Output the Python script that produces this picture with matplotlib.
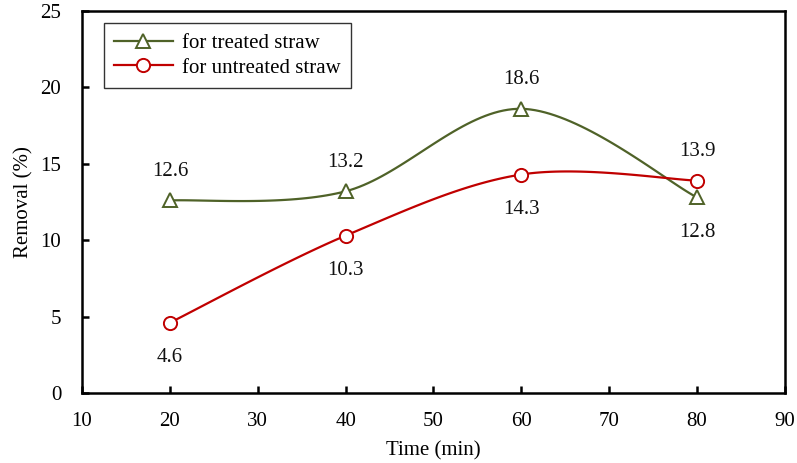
import numpy as np
import matplotlib
matplotlib.use("Agg")
import matplotlib.pyplot as plt

time_min = [20, 40, 60, 80]
treated = [12.6, 13.2, 18.6, 12.8]
untreated = [4.6, 10.3, 14.3, 13.9]
treated_label_pos = ["above", "above", "above", "below"]
untreated_label_pos = ["below", "below", "below", "above"]
xticks = [10, 20, 30, 40, 50, 60, 70, 80, 90]
yticks = [0, 5, 10, 15, 20, 25]

plt.rcParams['font.family'] = ['Liberation Serif', 'DejaVu Serif']


def smooth(x, y, n=40):
    x = np.asarray(x, float)
    y = np.asarray(y, float)
    P = np.column_stack([x, y])
    out = []
    for i in range(len(P) - 1):
        p0 = P[i - 1] if i > 0 else P[i]
        p1 = P[i]
        p2 = P[i + 1]
        p3 = P[i + 2] if i + 2 < len(P) else P[i + 1]
        c1 = p1 + (p2 - p0) / 6.0
        c2 = p2 - (p3 - p1) / 6.0
        t = np.linspace(0, 1, n)[:, None]
        seg = ((1 - t) ** 3) * p1 + 3 * ((1 - t) ** 2) * t * c1 + 3 * (1 - t) * t ** 2 * c2 + t ** 3 * p2
        out.append(seg if i == 0 else seg[1:])
    s = np.vstack(out)
    return s[:, 0], s[:, 1]


FS = 15

fig = plt.figure(figsize=(7.97, 4.63), dpi=100)
ax = fig.add_axes([0.1029, 0.1512, 0.882, 0.8250])

green = '#4F6228'
red = '#C00000'

for ys, col, mk, lab, pos in [(treated, green, '^', 'for treated straw', treated_label_pos),
                              (untreated, red, 'o', 'for untreated straw', untreated_label_pos)]:
    sx, sy = smooth(time_min, ys)
    ax.plot(sx, sy, color=col, lw=1.6, zorder=2)
    ax.plot(time_min, ys, linestyle='none', marker=mk, markersize=9.5,
            markerfacecolor='white', markeredgecolor=col, markeredgewidth=1.4, zorder=3)
    ax.plot([], [], color=col, lw=1.6, marker=mk, markersize=9.5,
            markerfacecolor='white', markeredgecolor=col, markeredgewidth=1.4, label=lab)
    for xv, yv, p in zip(time_min, ys, pos):
        off = 21 if p == 'above' else -25
        ax.annotate(f"{yv:.1f}", (xv, yv), xytext=(0, off), textcoords='offset points',
                    ha='center', va='center', fontsize=FS, color='#111111')

ax.set_xlim(10, 90)
ax.set_ylim(0, 25)
ax.set_xticks(xticks)
ax.set_yticks(yticks)
ax.tick_params(axis='both', direction='in', length=5, width=1.8, labelsize=FS,
               top=False, right=False)
ax.tick_params(axis='x', pad=14)
ax.tick_params(axis='y', pad=15)
for s in ax.spines.values():
    s.set_linewidth(1.8)

ax.set_xlabel('Time (min)', fontsize=FS, labelpad=7)
ax.set_ylabel('Removal (%)', fontsize=FS, labelpad=5)

leg = ax.legend(loc='upper left', bbox_to_anchor=(0.031, 0.969), borderaxespad=0,
                fontsize=FS, frameon=True, fancybox=False, edgecolor='black',
                handlelength=2.8, borderpad=0.5, labelspacing=0.25, handletextpad=0.45)
leg.get_frame().set_linewidth(1.0)

fig.savefig('out.png', dpi=100)
